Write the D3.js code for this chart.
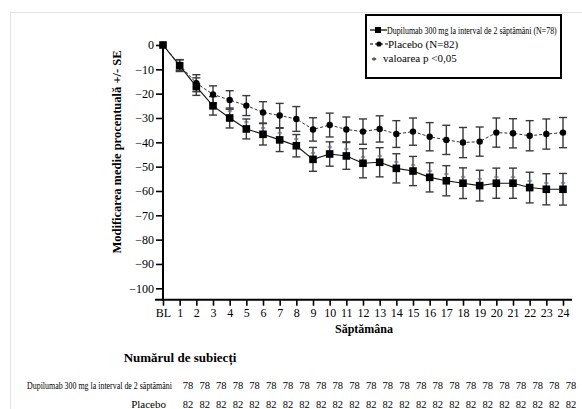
<!DOCTYPE html>
<html><head><meta charset="utf-8">
<script src="https://cdn.jsdelivr.net/npm/d3@7"></script>
<style>
body{margin:0;background:#fff;}
svg{display:block;}
</style></head>
<body><svg id="c" width="582" height="409"></svg>
<script>
const weeks = ["BL","1","2","3","4","5","6","7","8","9","10","11","12","13","14","15","16","17","18","19","20","21","22","23","24"];
const dupiMean = [0,-8.5,-17.1,-25,-30,-34.5,-36.7,-39,-41.4,-47,-44.8,-45.6,-48.6,-48.2,-50.7,-51.8,-54.4,-55.8,-56.8,-57.8,-56.8,-56.8,-58.6,-59.3,-59.3];
const dupiSE   = [0,2.4,3.6,3.8,4.1,4.1,4.4,4.8,4.6,4.9,5.0,5.5,6.0,6.0,6.0,6.0,6.0,6.2,6.3,6.3,6.2,6.2,6.3,6.4,6.5];
const placMean = [0,-8.2,-15.7,-20.3,-22.6,-24.9,-27.7,-29,-30.4,-34.7,-32.9,-34.7,-35.6,-34.5,-36.6,-35.6,-37.7,-39,-40.1,-39.7,-36,-36.3,-37.3,-36.6,-36];
const placSE   = [0,2.2,3.5,3.5,3.8,4.1,4.4,5.0,5.1,4.8,4.9,5.1,5.2,5.4,5.5,5.6,5.8,6.0,6.2,6.0,6.0,6.0,6.2,6.2,6.2];
const sigWeeks = ["4","5","6","7","8","9","10","11","12","13","14","15","16","17","18","19","20","21","22","23","24"];
const yTicks = [0,-10,-20,-30,-40,-50,-60,-70,-80,-90,-100];
const nDupi = Array(24).fill(78);
const nPlac = Array(24).fill(82);
const legendLabels = ["Dupilumab 300 mg la interval de 2 săptămâni (N=78)","Placebo (N=82)","valoarea p <0,05"];
const yTitle = "Modificarea medie procentuală +/- SE";
const xTitle = "Săptămâna";
const tableTitle = "Numărul de subiecți";
const rowLabels = ["Dupilumab 300 mg la interval de 2 săptămâni","Placebo"];

function pickFont(){
  const cands = ["Liberation Serif","Times New Roman","Tinos","Noto Serif","DejaVu Serif","FreeSerif"];
  const ctx = document.createElement("canvas").getContext("2d");
  const s = "Modificarea medie 0123456789 WwMm";
  ctx.font = "40px monospace"; const wm = ctx.measureText(s).width;
  ctx.font = "40px sans-serif"; const ws = ctx.measureText(s).width;
  for(const c of cands){
    ctx.font = `40px "${c}", monospace`; const a = ctx.measureText(s).width;
    ctx.font = `40px "${c}", sans-serif`; const b = ctx.measureText(s).width;
    if(Math.abs(a-wm)>0.5 || Math.abs(b-ws)>0.5) return `"${c}", serif`;
  }
  return "serif";
}
const FF = pickFont();
const svg = d3.select("#c").attr("font-family",FF);
svg.append("line").attr("x1",10.5).attr("x2",10.5).attr("y1",12).attr("y2",409).attr("stroke","#e2e2e2");
svg.append("line").attr("x1",10).attr("x2",582).attr("y1",12.5).attr("y2",12.5).attr("stroke","#e2e2e2");

// horizontally squeezed text (scaled to a target width)
function squeezed(parent, tx, ty, str, size, width){
  const g = parent.append("g");
  const t = g.append("text").attr("x",0).attr("y",0).attr("font-size",size).text(str);
  const w = t.node().getComputedTextLength();
  const k = Math.min(1, width / w);
  g.attr("transform",`translate(${tx},${ty}) scale(${k},1)`);
  return g;
}

const x = d3.scalePoint().domain(weeks).range([163,563]);
const y = d3.scaleLinear().domain([0,-100]).range([45,288.3]);
const y0 = y(-104.7);

const yAx = svg.append("g").attr("transform","translate(163,0)")
  .call(d3.axisLeft(y).tickValues(yTicks).tickSize(7).tickPadding(2).tickFormat(d3.format("d")));
yAx.attr("font-family",FF);
yAx.select(".domain").remove();
yAx.selectAll(".tick line").attr("stroke","#000").attr("stroke-width",1.6);
yAx.selectAll("text").attr("font-size",12).attr("fill","#000");
svg.append("line").attr("x1",163).attr("x2",163).attr("y1",44).attr("y2",y0+1).attr("stroke","#000").attr("stroke-width",2);

const xAx = svg.append("g").attr("transform",`translate(0,${y0})`)
  .call(d3.axisBottom(x).tickSize(6).tickPadding(3));
xAx.attr("font-family",FF);
xAx.select(".domain").remove();
xAx.selectAll(".tick line").attr("stroke","#000").attr("stroke-width",1.6);
xAx.selectAll("text").attr("font-size",12).attr("fill","#000");
svg.append("line").attr("x1",155).attr("x2",572).attr("y1",y0).attr("y2",y0).attr("stroke","#000").attr("stroke-width",2);

svg.append("text").attr("transform","translate(121,152) rotate(-90)").attr("text-anchor","middle")
  .attr("font-weight","bold").attr("font-size",12.5).text(yTitle);
svg.append("text").attr("x",364).attr("y",333).attr("text-anchor","middle")
  .attr("font-weight","bold").attr("font-size",12).text(xTitle);

function errBars(mean, se, col){
  const g = svg.append("g");
  weeks.forEach((w,i)=>{
    if(se[i]===0) return;
    const cx = x(w), t = y(mean[i]+se[i]), b = y(mean[i]-se[i]);
    g.append("line").attr("x1",cx).attr("x2",cx).attr("y1",t).attr("y2",b).attr("stroke",col).attr("stroke-width",1.4);
    g.append("line").attr("x1",cx-4).attr("x2",cx+4).attr("y1",t).attr("y2",t).attr("stroke",col).attr("stroke-width",1.4);
    g.append("line").attr("x1",cx-4).attr("x2",cx+4).attr("y1",b).attr("y2",b).attr("stroke",col).attr("stroke-width",1.4);
  });
}
errBars(placMean, placSE, "#3a3a3a");
errBars(dupiMean, dupiSE, "#3a3a3a");

const line = d3.line().x((d,i)=>x(weeks[i])).y(d=>y(d));
svg.append("path").datum(placMean).attr("d",line).attr("fill","none").attr("stroke","#333").attr("stroke-width",1).attr("stroke-dasharray","3,2");
svg.append("path").datum(dupiMean).attr("d",line).attr("fill","none").attr("stroke","#111").attr("stroke-width",1.1);

svg.append("g").selectAll("text").data(sigWeeks).join("text")
  .attr("x",d=>x(d)).attr("y",d=>y(dupiMean[weeks.indexOf(d)])-1.5)
  .attr("text-anchor","middle").attr("font-size",11).attr("fill","#5d6f86").text("*");

svg.append("g").selectAll("circle").data(placMean).join("circle")
  .attr("cx",(d,i)=>x(weeks[i])).attr("cy",d=>y(d)).attr("r",3.2).attr("fill","#000");
svg.append("g").selectAll("rect").data(dupiMean).join("rect")
  .attr("x",(d,i)=>x(weeks[i])-3.8).attr("y",d=>y(d)-3.8).attr("width",7.6).attr("height",7.6).attr("fill","#000");

const lg = svg.append("g");
lg.append("rect").attr("x",366).attr("y",15).attr("width",195).attr("height",63).attr("fill","#fff").attr("stroke","#000").attr("stroke-width",2);
lg.append("line").attr("x1",370).attr("x2",387).attr("y1",30).attr("y2",30).attr("stroke","#000").attr("stroke-width",1.2);
lg.append("rect").attr("x",375).attr("y",27).attr("width",6).attr("height",6).attr("fill","#000");
squeezed(lg, 387, 34, legendLabels[0], 11, 170);
lg.append("line").attr("x1",370).attr("x2",388).attr("y1",44).attr("y2",44).attr("stroke","#000").attr("stroke-width",1).attr("stroke-dasharray","3,2");
lg.append("circle").attr("cx",379).attr("cy",44).attr("r",2.6).attr("fill","#000");
lg.append("text").attr("x",388).attr("y",48).attr("font-size",11).text(legendLabels[1]);
lg.append("text").attr("x",374).attr("y",64).attr("font-size",11).attr("text-anchor","middle").text("*");
lg.append("text").attr("x",383).attr("y",62).attr("font-size",11).text(legendLabels[2]);

svg.append("text").attr("x",180).attr("y",362).attr("text-anchor","middle").attr("font-weight","bold").attr("font-size",13).text(tableTitle);
squeezed(svg, 27, 389, rowLabels[0], 11, 145);
svg.append("text").attr("x",166).attr("y",408).attr("text-anchor","end").attr("font-size",11).text(rowLabels[1]);
const xn = d3.scalePoint().domain(d3.range(24)).range([188,571]);
svg.append("g").selectAll("text").data(nDupi).join("text").attr("x",(d,i)=>xn(i)).attr("y",389).attr("text-anchor","middle").attr("font-size",10.5).text(d=>d);
svg.append("g").selectAll("text").data(nPlac).join("text").attr("x",(d,i)=>xn(i)).attr("y",408).attr("text-anchor","middle").attr("font-size",10.5).text(d=>d);
</script></body></html>
